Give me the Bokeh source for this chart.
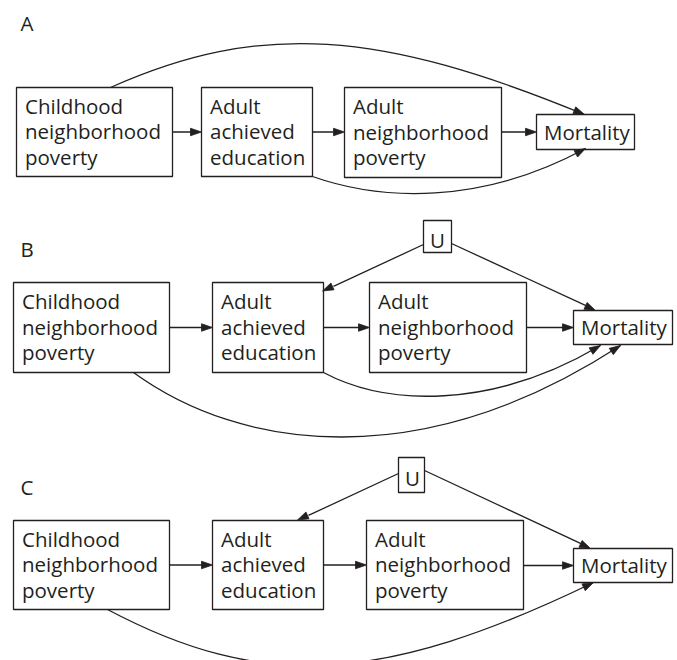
import numpy as np
from bokeh.plotting import figure
from bokeh.models import Range1d
from bokeh.embed import file_html
from bokeh.resources import INLINE
from bokeh.core.properties import value

# ---------------- diagram content ----------------
panel_labels = ["A", "B", "C"]
panel_label_x = [20, 20, 20]
panel_label_y = [29, 255, 493]

node_text = [
    "Childhood\nneighborhood\npoverty", "Adult\nachieved\neducation",
    "Adult\nneighborhood\npoverty", "Mortality",
    "Childhood\nneighborhood\npoverty", "Adult\nachieved\neducation",
    "Adult\nneighborhood\npoverty", "Mortality", "U",
    "Childhood\nneighborhood\npoverty", "Adult\nachieved\neducation",
    "Adult\nneighborhood\npoverty", "Mortality", "U",
]
node_left = [16, 201, 344, 536, 13, 212, 369, 573, 423, 13, 212, 366, 573, 398]
node_top = [87, 87, 87, 114, 282, 282, 282, 310, 220, 520, 520, 520, 548, 457]
node_right = [172, 312, 501, 634, 169, 323, 526, 672, 451, 169, 323, 523, 672, 424]
node_bottom = [176, 176, 177, 149, 372, 372, 372, 344, 252, 609, 609, 609, 582, 492]

# straight arrows: (x_start, y_start, x_tip, y_tip)
straight_x0 = [172, 312, 501, 169, 323, 526, 423, 451, 169, 323, 523, 398, 424]
straight_y0 = [131.5, 131.5, 131.5, 327, 327, 327, 244, 243, 564.5, 564.5, 565, 473, 470]
straight_x1 = [201, 344, 536, 212, 369, 573, 322, 595, 212, 366, 573, 297, 590]
straight_y1 = [131.5, 131.5, 131.5, 327, 327, 327, 290.5, 310, 564.5, 564.5, 565, 519.5, 548]

# curved arrows (cubic Bezier): start, control 1, control 2, tip
curve_x0 = [110, 312, 323, 133, 107]
curve_y0 = [87, 176, 372, 372, 609]
curve_cx0 = [260, 380, 385, 240, 260]
curve_cy0 = [20, 200, 405, 450, 690]
curve_cx1 = [380, 480, 490, 420, 380]
curve_cy1 = [30, 205, 410, 475, 685]
curve_x1 = [584, 585, 600, 620, 593]
curve_y1 = [114, 148, 345, 345, 582]

INK = "#231f20"
FONT = "Open Sans"
FS = "20.5px"
TY = -7.0  # renderer baseline correction

# ---------------- figure ----------------
p = figure(width=677, height=660, output_backend="svg", toolbar_location=None,
           x_range=Range1d(0, 677), y_range=Range1d(660, 0),
           min_border=0)
p.axis.visible = False
p.grid.visible = False
p.outline_line_color = None
p.background_fill_color = "white"
p.border_fill_color = "white"

# boxes
p.quad(left=node_left, right=node_right, top=node_top, bottom=node_bottom,
       fill_color=None, line_color=INK, line_width=1.3)

# box texts
tx, ty, tt = [], [], []
for txt, l, t, b in zip(node_text, node_left, node_top, node_bottom):
    lines = txt.split("\n")
    c = (t + b) / 2
    if len(lines) == 1:
        if txt == "U":
            tx.append(l + 6.5)
            ty.append(c + 10 + TY)
        else:
            tx.append(l + 7.5)
            ty.append(c + 6.8 + TY)
        tt.append(txt)
    else:
        for k, ln in enumerate(lines):
            tx.append(l + 8.5)
            ty.append(c - 19.5 + 25.5 * k + TY)
            tt.append(ln)
p.text(x=tx, y=ty, text=tt, text_font=value(FONT), text_font_size=FS,
       text_color=INK, text_baseline="alphabetic", text_align="left")

# panel labels
p.text(x=panel_label_x, y=[v + TY for v in panel_label_y], text=panel_labels,
       text_font=value(FONT), text_font_size=FS, text_color=INK,
       text_baseline="alphabetic", text_align="left")

HL, HW = 11.0, 7.5

def head(tipx, tipy, fromx, fromy):
    d = np.array([tipx - fromx, tipy - fromy], float)
    d /= np.hypot(*d)
    n = np.array([-d[1], d[0]])
    base = np.array([tipx, tipy]) - HL * d
    a = base + n * HW / 2
    b = base - n * HW / 2
    return [tipx, a[0], b[0]], [tipy, a[1], b[1]], base

hx, hy = [], []
lx, ly = [], []
for x0, y0, x1, y1 in zip(straight_x0, straight_y0, straight_x1, straight_y1):
    xs, ys, base = head(x1, y1, x0, y0)
    hx.append(xs); hy.append(ys)
    lx.append([x0, base[0] + 1]); ly.append([y0, base[1]])
p.multi_line(lx, ly, line_color=INK, line_width=1.3)

p.bezier(x0=curve_x0, y0=curve_y0, x1=curve_x1, y1=curve_y1,
         cx0=curve_cx0, cy0=curve_cy0, cx1=curve_cx1, cy1=curve_cy1,
         line_color=INK, line_width=1.3)
for x1, y1, cx, cy in zip(curve_x1, curve_y1, curve_cx1, curve_cy1):
    xs, ys, _ = head(x1, y1, cx, cy)
    hx.append(xs); hy.append(ys)

p.patches(hx, hy, fill_color=INK, line_color=INK, line_width=0.8)

open("out.html", "w").write(file_html(p, INLINE))
